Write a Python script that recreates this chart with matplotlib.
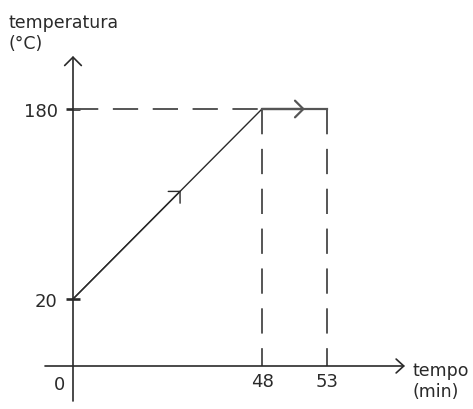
import numpy as np
import matplotlib as mpl
mpl.use('Agg')
import matplotlib.pyplot as plt

# values (tempo in min, temperatura in °C)
tempo = [0, 48, 53]
temperatura = [20, 180, 180]
x_ticks = [48, 53]
y_ticks = [20, 180]
y_labels = ['20', '180']

# the drawing is schematic, scale is broken: value -> pixel anchors
x_val = [-20, 0, 48, 53, 70]
x_px = [-5.75, 73, 262, 327, 548]
y_val = [-20, 0, 20, 180, 320]
y_px = [-24, 43, 110, 300, 466.25]

W, H = 473, 410
dark = '#2a2a2a'
grey = '#555555'
fs = 12.5
fsn = 13


def piecewise(vals, px):
    return (lambda v: np.interp(v, vals, px), lambda p: np.interp(p, px, vals))


def inv(p, vals, px):
    return float(np.interp(p, px, vals))


fig = plt.figure(figsize=(W / 100, H / 100), dpi=100)
ax = fig.add_axes([0, 0, 1, 1])
ax.set_xscale('function', functions=piecewise(x_val, x_px))
ax.set_yscale('function', functions=piecewise(y_val, y_px))
ax.set_xlim(inv(0, x_val, x_px), inv(W, x_val, x_px))
ax.set_ylim(inv(0, y_val, y_px), inv(H, y_val, y_px))
ax.set_autoscale_on(False)

# axes with open arrow heads
arrow = dict(arrowstyle='->, head_length=0.6, head_width=0.6', lw=1.2, color=dark,
             shrinkA=0, shrinkB=0, mutation_scale=10)
ax.annotate('', xy=(0, inv(H - 57, y_val, y_px)), xytext=(0, inv(H - 402, y_val, y_px)),
            arrowprops=arrow)
ax.annotate('', xy=(inv(405, x_val, x_px), 0), xytext=(inv(45, x_val, x_px), 0),
            arrowprops=dict(arrow, arrowstyle='->, head_length=0.55, head_width=0.5'))

for s in ['top', 'right']:
    ax.spines[s].set_visible(False)
ax.spines['left'].set_position(('data', 0))
ax.spines['bottom'].set_position(('data', 0))
ax.spines['left'].set_color('none')
ax.spines['bottom'].set_color('none')

ax.set_yticks(y_ticks)
ax.set_yticklabels(y_labels)
ax.tick_params(axis='y', direction='inout', length=10, width=1.9, color=dark,
               pad=6, labelsize=fsn, labelcolor=dark)
ax.set_xticks(x_ticks)
ax.set_xticklabels([str(v) for v in x_ticks])
ax.tick_params(axis='x', length=0, pad=4.5, labelsize=fsn, labelcolor=dark)
ax.annotate('0', xy=(0, 0), xytext=(-10, -13), textcoords='offset points',
            ha='center', va='center', fontsize=fsn, color=dark)

# dashed guides
dash = (13, 7.5)
ax.plot([tempo[0], tempo[1]], [temperatura[1], temperatura[1]], color=grey, lw=1.4, dashes=dash)
ax.plot([tempo[1], tempo[1]], [temperatura[1], 0], color=grey, lw=1.4, dashes=dash)
ax.plot([tempo[2], tempo[2]], [temperatura[2], 0], color=grey, lw=1.4, dashes=dash)

# heating ramp and plateau
ax.plot(tempo[:2], temperatura[:2], color=dark, lw=1.0)
ax.plot(tempo[1:], temperatura[1:], color=grey, lw=1.6)

mid = dict(arrowstyle='->, head_length=0.6, head_width=0.6', lw=1.0, color=dark,
           shrinkA=0, shrinkB=0, mutation_scale=10)
t = 0.57
ax.annotate('', xy=(tempo[0] + t * (tempo[1] - tempo[0]),
                    temperatura[0] + t * (temperatura[1] - temperatura[0])),
            xytext=(tempo[0], temperatura[0]), arrowprops=mid)
t = 0.66
mid2 = dict(mid, color=grey, lw=1.6)
ax.annotate('', xy=(tempo[1] + t * (tempo[2] - tempo[1]), temperatura[2]),
            xytext=(tempo[1], temperatura[1]), arrowprops=mid2)

# axis titles
def px(x, y):
    return x / W, 1 - y / H

ax.text(*px(8, 28), 'temperatura', transform=ax.transAxes, fontsize=fs, color=dark, va='baseline')
ax.text(*px(8, 49), '(°C)', transform=ax.transAxes, fontsize=fs, color=dark, va='baseline')
ax.text(*px(412, 376), 'tempo', transform=ax.transAxes, fontsize=fs, color=dark, va='baseline')
ax.text(*px(412, 397), '(min)', transform=ax.transAxes, fontsize=fs, color=dark, va='baseline')

fig.savefig('out.png', dpi=100)
